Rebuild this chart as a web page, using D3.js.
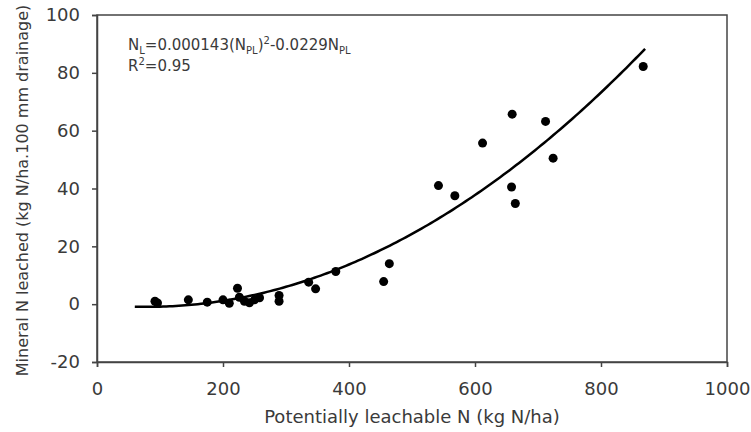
<!DOCTYPE html>
<html>
<head>
<meta charset="utf-8">
<script src="https://cdn.jsdelivr.net/npm/d3@7"></script>
<style>
    body { margin: 0; background: #fff; }
    text { font-family: "DejaVu Sans", "Liberation Sans", sans-serif; fill: #3a3a3a; }
</style>
</head>
<body>
<script>
// points (kg N/ha, kg N/ha.100 mm)
const x_vals = [92, 96, 145, 175, 200, 210, 223, 226, 234, 242, 250, 258, 289, 289,
    336, 347, 379, 455, 464, 542, 568, 612, 659, 658, 664, 712, 724, 867];
const y_vals = [1, 0.4, 1.5, 0.7, 1.5, 0.3, 5.5, 2.4, 1, 0.5, 1.5, 2.2, 3, 1,
    7.6, 5.3, 11.3, 7.8, 14, 41, 37.5, 55.7, 65.7, 40.5, 34.8, 63.2, 50.5, 82.2];
// fitted curve N_L = a*N_PL^2 + b*N_PL, drawn between these x values
const fit_a = 0.000143, fit_b = -0.0229;
const fit_x = [60, 870];
const x_ticks = [0, 200, 400, 600, 800, 1000];
const y_ticks = [-20, 0, 20, 40, 60, 80, 100];

let margin = {top: 15, right: 24, bottom: 70, left: 97},
    width = 751 - margin.left - margin.right,
    height = 432 - margin.top - margin.bottom;

let svg = d3.select("body").append("svg")
    .attr("width", 751)
    .attr("height", 432)
    .append("g")
    .attr("transform", `translate(${margin.left}, ${margin.top})`);

let x_scale = d3.scaleLinear().domain([0, 1000]).range([0, width]);
let y_scale = d3.scaleLinear().domain([-20, 100]).range([height, 0]);

// frame
svg.append("rect")
    .attr("width", width).attr("height", height)
    .attr("fill", "none").attr("stroke", "#444").attr("stroke-width", 1.5);

let x_axis = svg.append("g")
    .attr("transform", `translate(0, ${height})`)
    .call(d3.axisBottom(x_scale).tickValues(x_ticks).tickFormat(d => String(d)).tickSize(5).tickPadding(15));

let y_axis = svg.append("g")
    .call(d3.axisLeft(y_scale).tickValues(y_ticks).tickFormat(d => String(d)).tickSize(5).tickPadding(12));

[x_axis, y_axis].forEach(a => {
    a.select(".domain").attr("stroke", "#444").attr("stroke-width", 1.5);
    a.selectAll(".tick line").attr("stroke", "#444").attr("stroke-width", 1.5);
    a.selectAll(".tick text").style("font-size", "18px").attr("fill", "#3a3a3a")
        .style("font-family", "'DejaVu Sans', sans-serif");
});

// fitted curve
let curve_pts = d3.range(fit_x[0], fit_x[1] + 1, 5).map(v => [v, fit_a * v * v + fit_b * v]);
svg.append("path")
    .datum(curve_pts)
    .attr("d", d3.line().x(d => x_scale(d[0])).y(d => y_scale(d[1])).curve(d3.curveMonotoneX))
    .attr("fill", "none")
    .attr("stroke", "#000")
    .attr("stroke-width", 2.5);

// data points
svg.selectAll("circle")
    .data(x_vals.map((v, i) => [v, y_vals[i]]))
    .enter().append("circle")
    .attr("r", 4.5)
    .attr("cx", d => x_scale(d[0]))
    .attr("cy", d => y_scale(d[1]))
    .style("fill", "#000");

// equation
let eq = svg.append("text").attr("x", 31).attr("y", 35).style("font-size", "15px");
eq.append("tspan").text("N");
eq.append("tspan").attr("dy", 4).style("font-size", "10px").text("L");
eq.append("tspan").attr("dy", -4).text("=0.000143(N");
eq.append("tspan").attr("dy", 4).style("font-size", "10px").text("PL");
eq.append("tspan").attr("dy", -4).text(")");
eq.append("tspan").attr("dy", -6).style("font-size", "10px").text("2");
eq.append("tspan").attr("dy", 6).text("-0.0229N");
eq.append("tspan").attr("dy", 4).style("font-size", "10px").text("PL");

let r2 = svg.append("text").attr("x", 31).attr("y", 56).style("font-size", "15px");
r2.append("tspan").text("R");
r2.append("tspan").attr("dy", -6).style("font-size", "10px").text("2");
r2.append("tspan").attr("dy", 6).text("=0.95");

// axis labels
svg.append("text")
    .attr("x", width / 2)
    .attr("y", height + 61)
    .style("text-anchor", "middle")
    .style("font-size", "18px")
    .text("Potentially leachable N (kg N/ha)");

svg.append("text")
    .style("text-anchor", "middle")
    .style("font-size", "16px")
    .attr("transform", `translate(-69, ${height / 2 + 2}) rotate(-90)`)
    .text("Mineral N leached (kg N/ha.100 mm drainage)");
</script>
</body>
</html>
